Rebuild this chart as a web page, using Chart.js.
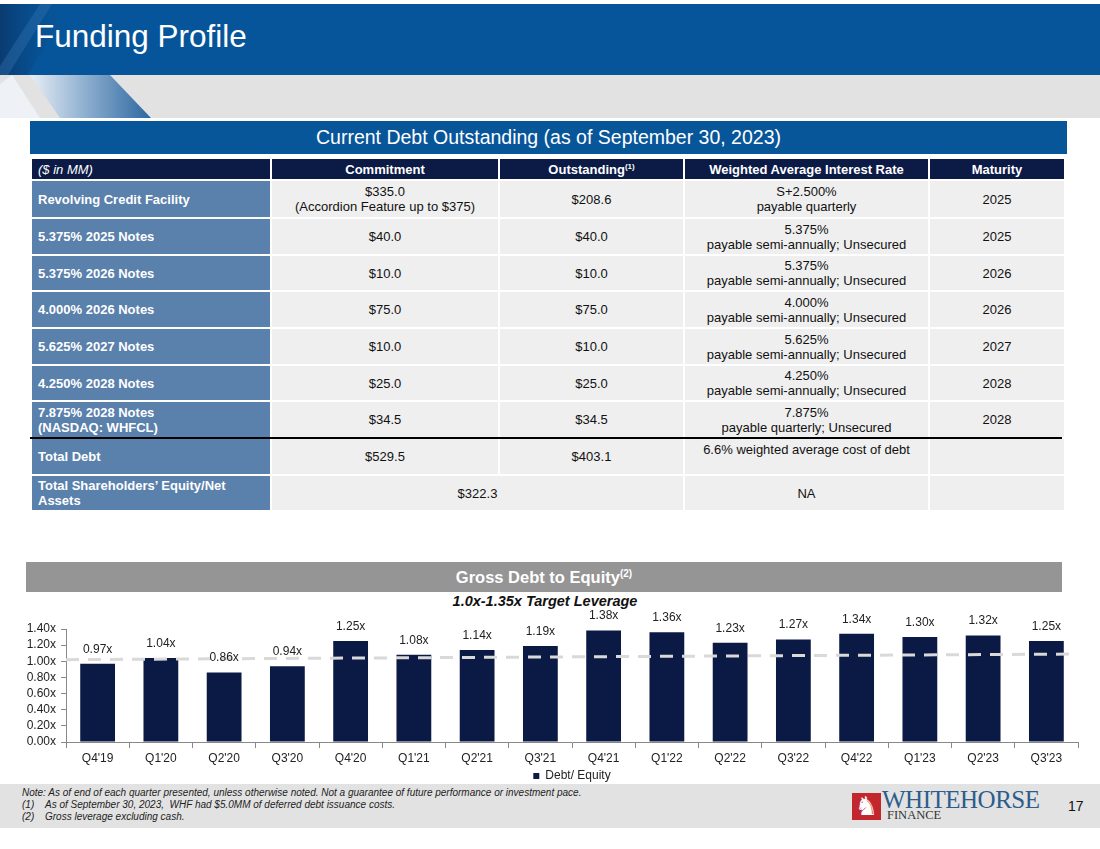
<!DOCTYPE html>
<html>
<head>
<meta charset="utf-8">
<title>Funding Profile</title>
<script src="https://cdn.jsdelivr.net/npm/chart.js@4.4.0/dist/chart.umd.min.js"></script>
<style>
  body { margin: 0; width: 1100px; height: 849px; position: relative; overflow: hidden; background: #fff;
         font-family: "Liberation Sans", Arial, sans-serif; color: #111; }
  #deco { position: absolute; left: 0; top: 0; }
  #pageTitle { position: absolute; left: 35px; top: 18px; font-size: 31.5px; color: #fff; }
  #tableTitle { position: absolute; left: 30px; top: 121px; width: 1037px; height: 33px; background: #07569a;
                color: #fff; font-size: 19.5px; line-height: 33px; text-align: center; }
  #debtTable { position: absolute; left: 30px; top: 157px; width: 1034px; border-collapse: collapse; table-layout: fixed; }
  #debtTable td, #debtTable th { border: 2px solid #fff; padding: 0; font-size: 13px; line-height: 15px;
                                 text-align: center; vertical-align: middle; white-space: pre-line; }
  #debtTable th { background: #0c1a46; color: #fff; font-weight: bold; height: 20px; }
  #debtTable th.unit { text-align: left; font-weight: normal; font-style: italic; padding-left: 6px; }
  #debtTable th sup { font-size: 8px; line-height: 0; }
  #debtTable td { background: #efefef; }
  #debtTable td.name { background: #5a80ac; color: #fff; font-weight: bold; text-align: left; padding-left: 6px; }
  #debtTable td.top { vertical-align: top; padding-top: 3px; }
  #totalRule { position: absolute; left: 30px; top: 437px; width: 1032px; height: 1.5px; background: #000; }
  #chartBar { position: absolute; left: 26px; top: 562px; width: 1036px; height: 30px; background: #959595;
              color: #fff; font-weight: bold; font-size: 16.5px; line-height: 30px; text-align: center; }
  #chartBar sup { font-size: 10px; line-height: 0; }
  #chartSub { position: absolute; left: 0; top: 593px; width: 1090px; text-align: center; font-size: 14.5px;
              font-weight: bold; font-style: italic; color: #111; }
  #chartWrap { position: absolute; left: 0; top: 600px; width: 1100px; height: 192px; }
  #footer { position: absolute; left: 0; top: 784px; width: 1100px; height: 44px; background: #e2e2e2; }
  .note { position: absolute; left: 22px; font-size: 10px; font-style: italic; color: #222; white-space: nowrap; }
  .note span { display: inline-block; width: 23px; }
  #logoBox { position: absolute; left: 852px; top: 793px; width: 29px; height: 27px; background: #c1272d;
             color: #fff; font-size: 26px; line-height: 27px; text-align: center; font-family: "DejaVu Sans", sans-serif; }
  #logoName { position: absolute; left: 882px; top: 786px; font-family: "Liberation Serif", "DejaVu Serif", serif;
              font-size: 25px; color: #2c5d8c; letter-spacing: -0.5px; }
  #logoSub { position: absolute; left: 887px; top: 808px; font-family: "Liberation Serif", "DejaVu Serif", serif;
             font-size: 12.5px; color: #333; }
  #pageNum { position: absolute; left: 1068px; top: 798px; font-size: 14px; color: #111; }
</style>
</head>
<body>

<svg id="deco" width="1100" height="120">
  <defs>
    <linearGradient id="dark" x1="0" y1="0" x2="1" y2="0">
      <stop offset="0" stop-color="#0a3b70"/>
      <stop offset="1" stop-color="#06559a" stop-opacity="0"/>
    </linearGradient>
    <linearGradient id="fade" x1="0" y1="0" x2="1" y2="0">
      <stop offset="0" stop-color="#e8eef5"/>
      <stop offset="0.45" stop-color="#8fb0d0"/>
      <stop offset="1" stop-color="#2c67a0"/>
    </linearGradient>
  </defs>
  <rect x="0" y="4" width="1100" height="71" fill="#06559a"/>
  <polygon points="0,4 70,4 28,75 0,75" fill="url(#dark)"/>
  <polygon points="40,4 52,4 8,75 0,75 0,66" fill="#3a78b5" fill-opacity="0.35"/>
  <rect x="0" y="75" width="1100" height="43" fill="#e2e2e2"/>
  <polygon points="0,84 12,75 40,118 0,118" fill="#eef1f5"/>
  <polygon points="30,75 110,75 151,118 60,118" fill="url(#fade)"/>
</svg>
<div id="pageTitle">Funding Profile</div>

<div id="tableTitle">Current Debt Outstanding (as of September 30, 2023)</div>
<table id="debtTable">
  <colgroup><col style="width:240px"><col style="width:228px"><col style="width:185px"><col style="width:245px"><col style="width:136px"></colgroup>
  <thead><tr>
    <th class="unit">($ in MM)</th><th>Commitment</th><th>Outstanding<sup>(1)</sup></th>
    <th>Weighted Average Interest Rate</th><th>Maturity</th>
  </tr></thead>
  <tbody id="debtBody"></tbody>
</table>
<div id="totalRule"></div>

<div id="chartBar">Gross Debt to Equity<sup>(2)</sup></div>
<div id="chartSub">1.0x-1.35x Target Leverage</div>
<div id="chartWrap"><canvas id="leverageChart" width="1100" height="192"></canvas></div>

<div id="footer"></div>
<div class="note" style="top:787px">Note: As of end of each quarter presented, unless otherwise noted. Not a guarantee of future performance or investment pace.</div>
<div class="note" style="top:799px"><span>(1)</span>As of September 30, 2023,&nbsp; WHF had $5.0MM of deferred debt issuance costs.</div>
<div class="note" style="top:811px"><span>(2)</span>Gross leverage excluding cash.</div>
<div id="logoBox">&#9822;</div>
<div id="logoName">WHITEHORSE</div>
<div id="logoSub">FINANCE</div>
<div id="pageNum">17</div>

<script>
// debt table
const facilities = ['Revolving Credit Facility', '5.375% 2025 Notes', '5.375% 2026 Notes', '4.000% 2026 Notes',
                    '5.625% 2027 Notes', '4.250% 2028 Notes', '7.875% 2028 Notes\n(NASDAQ: WHFCL)'];
const commitments = ['$335.0\n(Accordion Feature up to $375)', '$40.0', '$10.0', '$75.0', '$10.0', '$25.0', '$34.5'];
const outstanding = ['$208.6', '$40.0', '$10.0', '$75.0', '$10.0', '$25.0', '$34.5'];
const rates = ['S+2.500%\npayable quarterly', '5.375%\npayable semi-annually; Unsecured',
               '5.375%\npayable semi-annually; Unsecured', '4.000%\npayable semi-annually; Unsecured',
               '5.625%\npayable semi-annually; Unsecured', '4.250%\npayable semi-annually;  Unsecured',
               '7.875%\npayable quarterly;  Unsecured'];
const maturities = ['2025', '2025', '2026', '2026', '2027', '2028', '2028'];
const rowHeights = [38, 37, 36, 37, 37, 36, 37];

// chart data
const quarters = ["Q4'19", "Q1'20", "Q2'20", "Q3'20", "Q4'20", "Q1'21", "Q2'21", "Q3'21",
                  "Q4'21", "Q1'22", "Q2'22", "Q3'22", "Q4'22", "Q1'23", "Q2'23", "Q3'23"];
const debtToEquity = [0.97, 1.04, 0.86, 0.94, 1.25, 1.08, 1.14, 1.19, 1.38, 1.36, 1.23, 1.27, 1.34, 1.30, 1.32, 1.25];
const targetLine = [{ x: 0, y: 1.02 }, { x: 1, y: 1.09 }];

const body = document.getElementById('debtBody');
function addRow(cells, height) {
    const tr = document.createElement('tr');
    tr.style.height = height + 'px';
    cells.forEach(function (c) {
        const td = document.createElement('td');
        td.textContent = c.text;
        if (c.cls) td.className = c.cls;
        if (c.span) td.colSpan = c.span;
        tr.appendChild(td);
    });
    body.appendChild(tr);
}
facilities.forEach(function (name, i) {
    addRow([{ text: name, cls: 'name' }, { text: commitments[i] }, { text: outstanding[i] },
            { text: rates[i] }, { text: maturities[i] }], rowHeights[i]);
});
addRow([{ text: 'Total Debt', cls: 'name' }, { text: '$529.5' }, { text: '$403.1' },
        { text: '6.6% weighted average cost of debt', cls: 'top' }, { text: '' }], 37);
addRow([{ text: 'Total Shareholders\u2019 Equity/Net\nAssets', cls: 'name' }, { text: '$322.3', span: 2 },
        { text: 'NA' }, { text: '' }], 36);

Chart.defaults.font.family = "'Liberation Sans', Arial, sans-serif";

// value labels above the bars
const valueLabels = {
    id: 'valueLabels',
    afterDatasetsDraw(chart) {
        const c = chart.ctx;
        const meta = chart.getDatasetMeta(1);
        c.save();
        c.font = "12px 'Liberation Sans', Arial, sans-serif";
        c.fillStyle = '#222';
        c.textAlign = 'center';
        c.textBaseline = 'middle';
        meta.data.forEach(function (bar, i) {
            c.fillText(debtToEquity[i].toFixed(2) + 'x', bar.x, bar.y - 14.5);
        });
        c.restore();
    }
};

const ctx = document.getElementById('leverageChart').getContext('2d');
new Chart(ctx, {
    type: 'bar',
    data: {
        labels: quarters,
        datasets: [{
            type: 'line',
            label: 'Target',
            data: targetLine,
            xAxisID: 'x2',
            borderColor: '#d9d9d9',
            borderWidth: 3,
            borderDash: [13, 9],
            pointRadius: 0,
            order: 0
        }, {
            label: 'Debt/ Equity',
            data: debtToEquity,
            backgroundColor: '#0b1a45',
            barPercentage: 0.55,
            categoryPercentage: 1,
            grouped: false,
            order: 1
        }]
    },
    options: {
        responsive: false,
        animation: false,
        layout: { padding: { top: 29, right: 22, left: 0, bottom: 0 } },
        plugins: {
            legend: {
                position: 'bottom',
                fullSize: false,
                labels: {
                    filter: item => item.datasetIndex === 1,
                    boxWidth: 6,
                    boxHeight: 6,
                    padding: 4,
                    color: '#222',
                    font: { size: 12 }
                }
            },
            tooltip: { enabled: false }
        },
        scales: {
            x: {
                grid: { drawOnChartArea: false, tickLength: 6, color: '#888', offset: true },
                border: { color: '#888' },
                ticks: { color: '#222', font: { size: 12 }, padding: 3, maxRotation: 0, autoSkip: false },
                afterFit: s => { s.height = 24; }
            },
            x2: { type: 'linear', display: false, offset: false, min: 0, max: 1 },
            y: {
                min: 0,
                max: 1.4,
                ticks: { stepSize: 0.2, autoSkip: false, callback: v => v.toFixed(2) + 'x', color: '#222', font: { size: 12 }, padding: 5 },
                grid: { drawOnChartArea: false, tickLength: 5, color: '#888' },
                border: { color: '#888' },
                afterFit: s => { s.width = 66; }
            }
        }
    },
    plugins: [valueLabels]
});
</script>
</body>
</html>
